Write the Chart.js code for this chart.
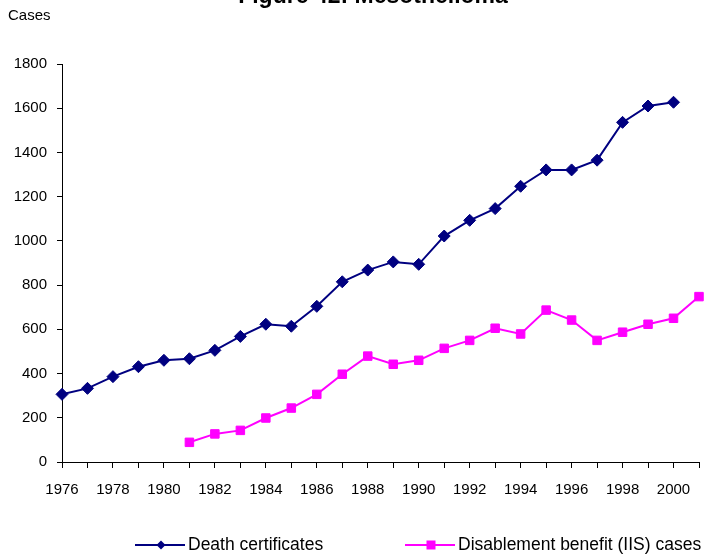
<!DOCTYPE html>
<html>
<head>
<meta charset="utf-8">
<script src="https://cdn.jsdelivr.net/npm/chart.js@4/dist/chart.umd.min.js"></script>
<style>
  html, body { margin: 0; padding: 0; background: #fff; }
  #wrap { width: 712px; height: 558px; position: relative; }
</style>
</head>
<body>
<div id="wrap"><canvas id="grafico"></canvas></div>
<script>
// data
const anos = ['1976','1977','1978','1979','1980','1981','1982','1983','1984','1985','1986','1987','1988',
              '1989','1990','1991','1992','1993','1994','1995','1996','1997','1998','1999','2000','2001'];
// Death certificates, 1976-2000
const certidoesObito = [306, 333, 386, 431, 460, 467, 505, 568, 623, 614, 704, 815, 868,
                        905, 894, 1022, 1093, 1146, 1247, 1321, 1321, 1365, 1536, 1610, 1627];
// Disablement benefit (IIS) cases, 1981-2001
const casosIIS = [89, 127, 143, 199, 244, 306, 397, 479, 442, 460, 514, 550, 605,
                  579, 687, 642, 550, 587, 623, 650, 748];
const yTicks = [0, 200, 400, 600, 800, 1000, 1200, 1400, 1600, 1800];

const titulo = 'Figure 42: Mesothelioma';
const rotuloY = 'Cases';
const nomesSeries = ['Death certificates', 'Disablement benefit (IIS) cases'];

const corAzul = '#000080';
const corMagenta = '#FF00FF';
const fonte = '"Liberation Sans", Arial, sans-serif';

// align series to the year axis
function alinhar(valores, anoInicial) {
    const out = anos.map(() => null);
    const i0 = anos.indexOf(anoInicial);
    valores.forEach((v, i) => { out[i0 + i] = v; });
    return out;
}

function desenharPonto(ctx, tipo, x, y, r, cor) {
    ctx.save();
    ctx.fillStyle = cor;
    ctx.beginPath();
    if (tipo === 'diamond') {
        ctx.moveTo(x, y - r); ctx.lineTo(x + r, y); ctx.lineTo(x, y + r); ctx.lineTo(x - r, y);
        ctx.closePath();
    } else {
        ctx.rect(x - r, y - r, 2 * r, 2 * r);
    }
    ctx.fill();
    ctx.restore();
}

const extras = {
    id: 'extras',
    afterDraw(chart) {
        const ctx = chart.ctx;
        ctx.save();
        // title (cut off at the top edge)
        ctx.fillStyle = '#000';
        ctx.font = 'bold 23px ' + fonte;
        ctx.textAlign = 'center';
        ctx.textBaseline = 'alphabetic';
        ctx.fillText(titulo, 373, 3);
        // axis label
        ctx.font = '15px ' + fonte;
        ctx.textAlign = 'left';
        ctx.textBaseline = 'middle';
        ctx.fillText(rotuloY, 8, 16);
        // legend
        const itens = [
            { x: 135, cor: corAzul, tipo: 'diamond', r: 4.5, nome: nomesSeries[0] },
            { x: 405, cor: corMagenta, tipo: 'square', r: 4.5, nome: nomesSeries[1] }
        ];
        const ly = 545;
        ctx.font = '17.5px ' + fonte;
        itens.forEach(it => {
            ctx.strokeStyle = it.cor;
            ctx.lineWidth = 2;
            ctx.beginPath();
            ctx.moveTo(it.x, ly);
            ctx.lineTo(it.x + 50, ly);
            ctx.stroke();
            desenharPonto(ctx, it.tipo, it.x + 26, ly, it.r, it.cor);
            ctx.fillStyle = '#000';
            ctx.fillText(it.nome, it.x + 53, ly);
        });
        ctx.restore();
    }
};

const ctx = document.getElementById('grafico').getContext('2d');
new Chart(ctx, {
    type: 'line',
    data: {
        labels: anos,
        datasets: [
            {
                label: nomesSeries[0],
                data: alinhar(certidoesObito, '1976'),
                borderColor: corAzul,
                backgroundColor: corAzul,
                borderWidth: 2,
                pointStyle: 'rectRot',
                pointRadius: 6,
                pointBorderWidth: 1,
                tension: 0,
                spanGaps: false
            },
            {
                label: nomesSeries[1],
                data: alinhar(casosIIS, '1981'),
                borderColor: corMagenta,
                backgroundColor: corMagenta,
                borderWidth: 2,
                pointStyle: 'rect',
                pointRadius: 6,
                pointBorderWidth: 1,
                tension: 0,
                spanGaps: false
            }
        ]
    },
    options: {
        responsive: true,
        maintainAspectRatio: false,
        animation: false,
        layout: { padding: { left: 0, right: 12, top: 64, bottom: 56 } },
        plugins: {
            legend: { display: false },
            tooltip: { enabled: false },
            title: { display: false }
        },
        scales: {
            x: {
                type: 'category',
                offset: false,
                afterFit: (s) => { s.height = 40; },
                border: { display: true, color: '#000', width: 1 },
                grid: { display: true, drawOnChartArea: false, drawTicks: true, tickLength: 6, color: '#000', offset: false },
                ticks: {
                    autoSkip: false,
                    maxRotation: 0,
                    color: '#000',
                    font: { family: fonte, size: 15 },
                    padding: 13,
                    callback: function(v, i) { return i % 2 === 0 ? anos[i] : ''; }
                }
            },
            y: {
                min: 0,
                max: 1800,
                afterFit: (s) => { s.width = 62; },
                afterBuildTicks: (s) => { s.ticks = yTicks.map(v => ({ value: v })); },
                border: { display: true, color: '#000', width: 1 },
                grid: { display: true, drawOnChartArea: false, drawTicks: true, tickLength: 5, color: '#000' },
                ticks: {
                    color: '#000',
                    font: { family: fonte, size: 15 },
                    padding: 10,
                    callback: (v) => String(v)
                }
            }
        }
    },
    plugins: [extras]
});
</script>
</body>
</html>
